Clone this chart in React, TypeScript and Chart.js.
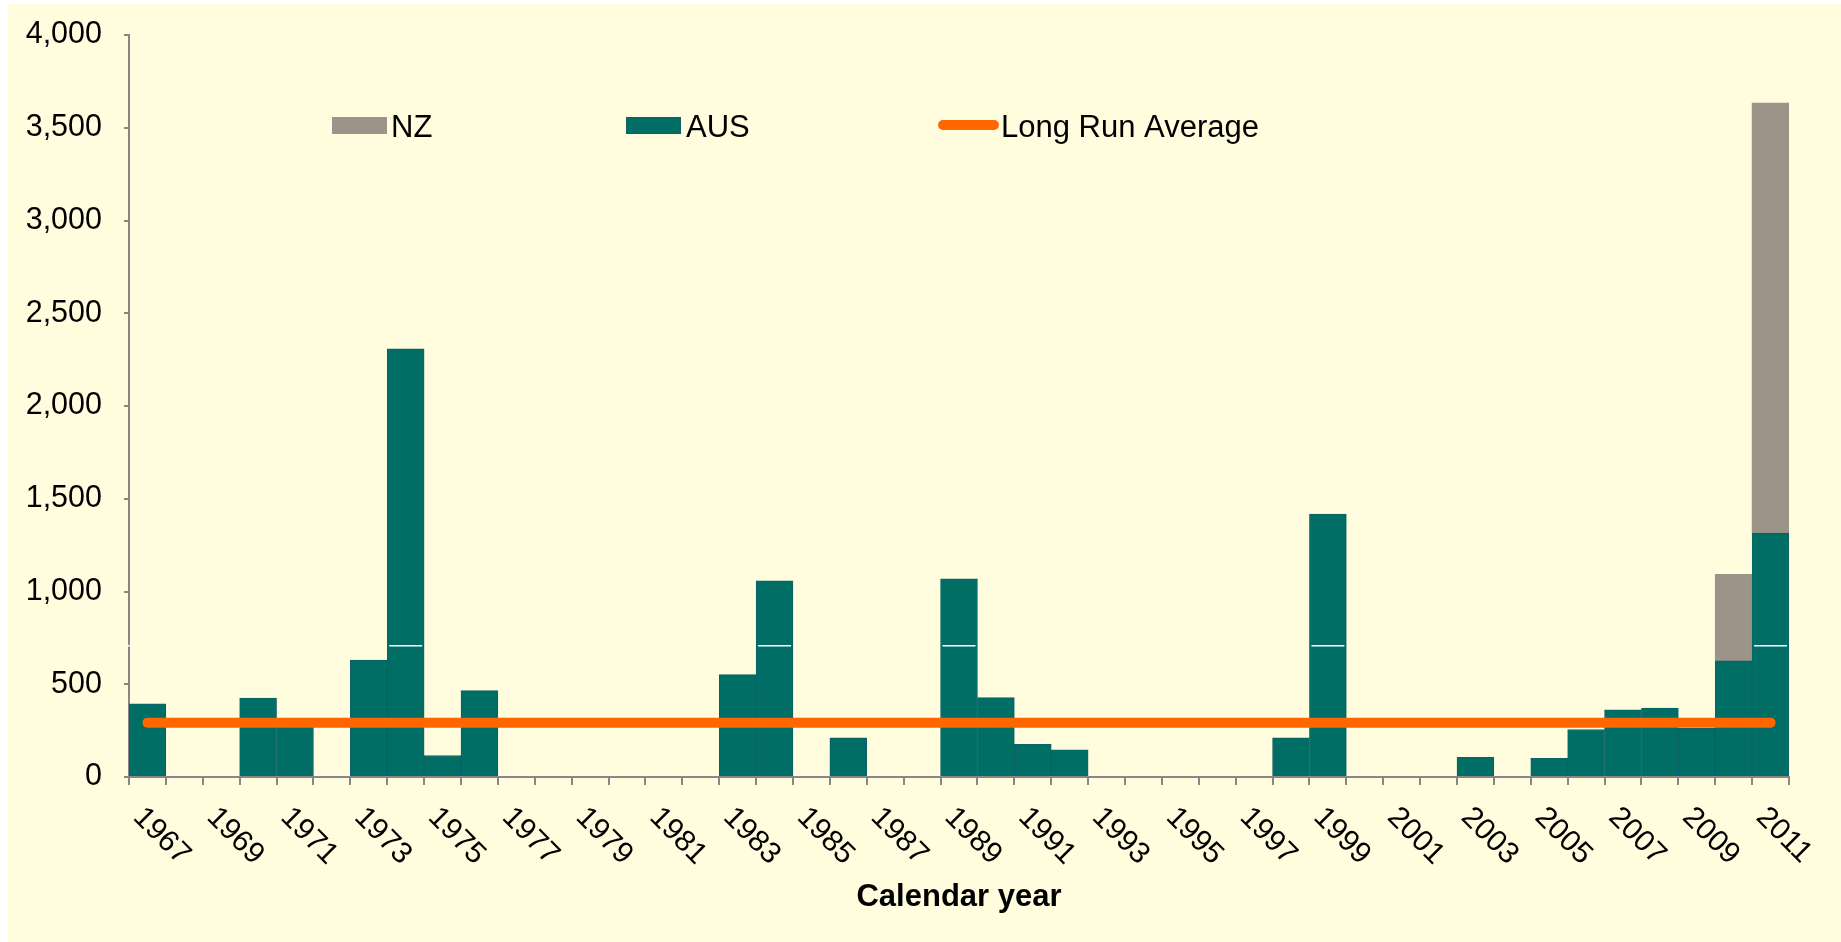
import React, { useEffect, useRef } from "react";
import { Chart, registerables } from "chart.js";

Chart.register(...registerables);

// Calendar years on the category axis
const years = [
  "1967", "1968", "1969", "1970", "1971", "1972", "1973", "1974", "1975",
  "1976", "1977", "1978", "1979", "1980", "1981", "1982", "1983", "1984",
  "1985", "1986", "1987", "1988", "1989", "1990", "1991", "1992", "1993",
  "1994", "1995", "1996", "1997", "1998", "1999", "2000", "2001", "2002",
  "2003", "2004", "2005", "2006", "2007", "2008", "2009", "2010", "2011",
];

// Australian losses per year
const ausValues = [
  395, 0, 0, 425, 285, 0, 630, 2308, 116,
  466, 0, 0, 0, 0, 0, 0, 552, 1058,
  0, 211, 0, 0, 1068, 428, 176, 147, 0,
  0, 0, 0, 0, 211, 1418, 0, 0, 0,
  106, 0, 101, 256, 362, 371, 262, 626, 1315,
];

// New Zealand losses per year (stacked on top of AUS)
const nzValues = [
  null, null, null, null, null, null, null, null, null,
  null, null, null, null, null, null, null, null, null,
  null, null, null, null, null, null, null, null, null,
  null, null, null, null, null, null, null, null, null,
  null, null, null, null, null, null, null, 466, 2318,
];

// Long run average level
const longRunAverage = 293;

// Level of the thin white rule across the taller AUS bars
const ruleLevel = 708;

// Value-axis ticks
const yTickValues = [0, 500, 1000, 1500, 2000, 2500, 3000, 3500, 4000];

// Category labels shown on the x axis (every second year)
const xTickLabels = [
  "1967", "1969", "1971", "1973", "1975", "1977", "1979", "1981", "1983",
  "1985", "1987", "1989", "1991", "1993", "1995", "1997", "1999", "2001",
  "2003", "2005", "2007", "2009", "2011",
];

const FONT = '"Liberation Sans", Arial, sans-serif';
const BG = "#FFFDDE";
const TEAL = "#006E65";
const TEAL_EDGE = "#0A6269";
const GREY = "#9C9488";
const ORANGE = "#FF6600";
const AXIS = "#878787";

const W = 1833;
const H = 938;

const backgroundPlugin = {
  id: "pageBackground",
  beforeDraw(chart: any) {
    const ctx = chart.ctx;
    ctx.save();
    ctx.fillStyle = BG;
    ctx.fillRect(0, 0, chart.width, chart.height);
    ctx.restore();
  },
};

const rulePlugin = {
  id: "whiteRule",
  afterDatasetsDraw(chart: any) {
    const ctx = chart.ctx;
    const yScale = chart.scales.y;
    const y = yScale.getPixelForValue(ruleLevel);
    const meta = chart.getDatasetMeta(0);
    ctx.save();
    ctx.strokeStyle = "#FFFFFF";
    ctx.lineWidth = 1.5;
    ctx.beginPath();
    meta.data.forEach((bar: any, i: number) => {
      if ((ausValues[i] ?? 0) > ruleLevel) {
        const { x, width } = bar.getProps(["x", "width"], true);
        ctx.moveTo(x - width / 2 + 2, y);
        ctx.lineTo(x + width / 2 - 2, y);
      }
    });
    const ax = chart.chartArea.left;
    ctx.moveTo(ax - 3, y);
    ctx.lineTo(ax + 2, y);
    ctx.stroke();
    ctx.restore();
  },
};

const labelsPlugin = {
  id: "axisAndLegendText",
  afterDraw(chart: any) {
    const ctx = chart.ctx;
    const area = chart.chartArea;
    const xScale = chart.scales.x;
    ctx.save();

    // rotated year labels
    ctx.fillStyle = "#000000";
    ctx.font = `30px ${FONT}`;
    ctx.textAlign = "left";
    ctx.textBaseline = "top";
    xTickLabels.forEach((label) => {
      const i = years.indexOf(label);
      const x = xScale.getPixelForValue(i);
      ctx.save();
      ctx.translate(x + 1, area.bottom + 25);
      ctx.rotate(Math.PI / 4);
      ctx.fillText(label, 0, 0);
      ctx.restore();
    });

    // axis title
    ctx.font = `bold 31px ${FONT}`;
    ctx.textAlign = "center";
    ctx.textBaseline = "alphabetic";
    ctx.fillText("Calendar year", (area.left + area.right) / 2, area.bottom + 129);

    // legend
    const baseY = 133;
    const boxTop = 113;
    const boxH = 17;
    ctx.font = `31px ${FONT}`;
    ctx.textAlign = "left";

    ctx.fillStyle = GREY;
    ctx.fillRect(324, boxTop, 55, boxH);
    ctx.fillStyle = "#000000";
    ctx.fillText("NZ", 383, baseY);

    ctx.fillStyle = TEAL;
    ctx.fillRect(618, boxTop, 55, boxH);
    ctx.strokeStyle = TEAL_EDGE;
    ctx.lineWidth = 1;
    ctx.strokeRect(618.5, boxTop + 0.5, 54, boxH - 1);
    ctx.fillStyle = "#000000";
    ctx.fillText("AUS", 678, baseY);

    ctx.strokeStyle = ORANGE;
    ctx.lineWidth = 10;
    ctx.lineCap = "round";
    ctx.beginPath();
    ctx.moveTo(935, 121);
    ctx.lineTo(986, 121);
    ctx.stroke();
    ctx.fillStyle = "#000000";
    ctx.fillText("Long Run Average", 993, baseY);

    ctx.restore();
  },
};

export default function App() {
  const canvasRef = useRef<HTMLCanvasElement | null>(null);

  useEffect(() => {
    const canvas = canvasRef.current;
    if (!canvas) return;

    const chart = new Chart(canvas, {
      type: "bar",
      data: {
        labels: years,
        datasets: [
          {
            type: "bar",
            label: "AUS",
            data: ausValues,
            backgroundColor: TEAL,
            borderColor: TEAL_EDGE,
            borderWidth: 1,
            categoryPercentage: 1,
            barPercentage: 1,
            stack: "losses",
            order: 1,
          },
          {
            type: "bar",
            label: "NZ",
            data: nzValues,
            backgroundColor: GREY,
            borderColor: GREY,
            borderWidth: 0,
            categoryPercentage: 1,
            barPercentage: 1,
            stack: "losses",
            order: 2,
          },
          {
            type: "line",
            label: "Long Run Average",
            data: years.map(() => longRunAverage),
            borderColor: ORANGE,
            backgroundColor: ORANGE,
            borderWidth: 10,
            borderCapStyle: "round",
            pointRadius: 0,
            tension: 0,
            stack: "average",
            order: 0,
          },
        ],
      } as any,
      options: {
        animation: false,
        responsive: false,
        devicePixelRatio: 1,
        events: [],
        layout: { padding: { top: 31, right: 52, left: 0, bottom: 0 } },
        plugins: {
          legend: { display: false },
          tooltip: { enabled: false },
          title: { display: false },
        },
        scales: {
          x: {
            type: "category",
            stacked: true,
            offset: true,
            grid: {
              offset: true,
              drawOnChartArea: false,
              drawTicks: true,
              tickLength: 8,
              color: AXIS,
              lineWidth: 2,
            },
            border: { display: true, color: AXIS, width: 2 },
            ticks: { display: false },
            afterFit: (s: any) => {
              s.height = 165;
              s.paddingLeft = 0;
              s.paddingRight = 0;
            },
          },
          y: {
            stacked: true,
            min: 0,
            max: 4000,
            grid: {
              drawOnChartArea: false,
              drawTicks: true,
              tickLength: 5,
              color: AXIS,
              lineWidth: 2,
            },
            border: { display: true, color: AXIS, width: 2 },
            ticks: {
              color: "#000000",
              font: { family: FONT, size: 30.5 },
              padding: 22,
              callback: (v: any) => Number(v).toLocaleString("en-US"),
            },
            afterBuildTicks: (s: any) => {
              s.ticks = yTickValues.map((value) => ({ value }));
            },
            afterFit: (s: any) => {
              s.width = 121;
              s.paddingTop = 0;
              s.paddingBottom = 0;
            },
          },
        } as any,
      },
      plugins: [backgroundPlugin, rulePlugin, labelsPlugin],
    });

    return () => chart.destroy();
  }, []);

  return (
    <div style={{ position: "fixed", left: 8, top: 4, width: W, height: H }}>
      <canvas
        ref={canvasRef}
        width={W}
        height={H}
        style={{ display: "block", width: W, height: H }}
      />
    </div>
  );
}
